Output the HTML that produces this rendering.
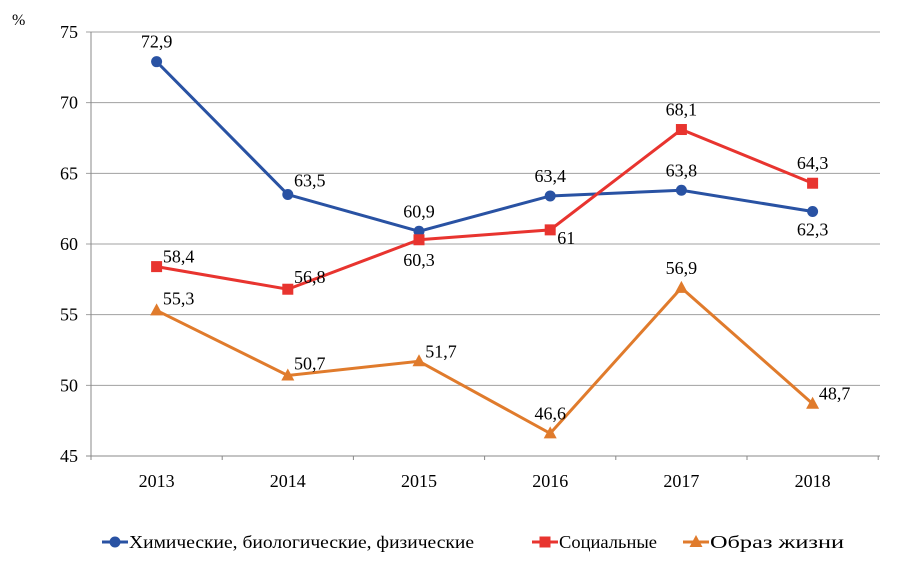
<!DOCTYPE html>
<html><head><meta charset="utf-8"><style>
html,body{margin:0;padding:0;background:#fff;}
svg{display:block;font-family:"Liberation Serif",serif;}
</style></head><body>
<svg id="c" width="898" height="565">
<text x="12" y="25" font-size="16">%</text>
</svg>
<script>
const categories=["2013","2014","2015","2016","2017","2018"];
const yTicks=[45,50,55,60,65,70,75];
const chemValues=[72.9,63.5,60.9,63.4,63.8,62.3];
const socialValues=[58.4,56.8,60.3,61,68.1,64.3];
const lifeValues=[55.3,50.7,51.7,46.6,56.9,48.7];
const seriesNames=["Химические, биологические, физические","Социальные","Образ жизни"];
const NS="http://www.w3.org/2000/svg";
const svg=document.getElementById('c');
const X0=91,BW=131.2,Y0=456,YT=32;
const xs=i=>X0+BW*(i+0.5);
const ys=v=>Y0-(v-45)/30*(Y0-YT);
function el(t,a,p){const e=document.createElementNS(NS,t);for(const k in a)e.setAttribute(k,a[k]);(p||svg).appendChild(e);return e;}
yTicks.forEach(v=>{
  const g=el('line',{x1:86,x2:880,y1:ys(v),y2:ys(v),stroke:v===45?'#888':'#a0a0a0','stroke-width':1});
  
  
  const t=el('text',{x:78,y:ys(v)+6,'font-size':18,'text-anchor':'end'});t.textContent=v;
  
  
});
el('line',{x1:X0,x2:X0,y1:YT,y2:Y0,stroke:'#888'});
for(let i=0;i<=categories.length;i++)el('line',{x1:X0+BW*i,x2:X0+BW*i,y1:Y0,y2:Y0+4,stroke:'#888'});
categories.forEach((c,i)=>{const t=el('text',{x:xs(i),y:487,'font-size':18,'text-anchor':'middle'});t.textContent=c;
  
  });
const series=[
 {vals:chemValues,color:'#2952a3',marker:'circle',name:'chem',off:[[0,-20],[22,-14],[0,-20],[0,-20],[0,-20],[0,18]]},
 {vals:socialValues,color:'#e8342f',marker:'square',name:'social',off:[[22,-10],[22,-12],[0,20],[16,8],[0,-20],[0,-20]]},
 {vals:lifeValues,color:'#e07b2c',marker:'triangle',name:'life',off:[[22,-12],[22,-12],[22,-10],[0,-20],[0,-20],[22,-10]]}
];
function marker(type,x,y,color,parent){
  if(type==='circle')return el('circle',{cx:x,cy:y,r:5.5,fill:color},parent);
  if(type==='square')return el('rect',{x:x-5.5,y:y-5.5,width:11,height:11,fill:color},parent);
  return el('polygon',{points:`${x},${y-7} ${x+6.5},${y+5} ${x-6.5},${y+5}`,fill:color},parent);
}
series.forEach(s=>{
  const g=el('g',{});
  
  
  el('polyline',{points:s.vals.map((v,i)=>xs(i)+','+ys(v)).join(' '),fill:'none',stroke:s.color,'stroke-width':3},g);
  s.vals.forEach((v,i)=>{
    const m=marker(s.marker,xs(i),ys(v),s.color,g);
    
    
    const t=el('text',{x:xs(i)+s.off[i][0],y:ys(v)+s.off[i][1]+6,'font-size':18,'text-anchor':'middle'},g);
    t.textContent=String(v).replace('.',',');
    
    
  });
});
const legX=[102,532,683];
const legW=[345,98,134];
series.forEach((s,i)=>{
  const g=el('g',{});
  
  
  el('line',{x1:legX[i],x2:legX[i]+26,y1:542,y2:542,stroke:s.color,'stroke-width':3},g);
  marker(s.marker,legX[i]+13,542,s.color,g);
  const t=el('text',{x:legX[i]+27,y:548,'font-size':18,textLength:legW[i],lengthAdjust:'spacingAndGlyphs'},g);t.textContent=seriesNames[i];
});
</script>
</body></html>
